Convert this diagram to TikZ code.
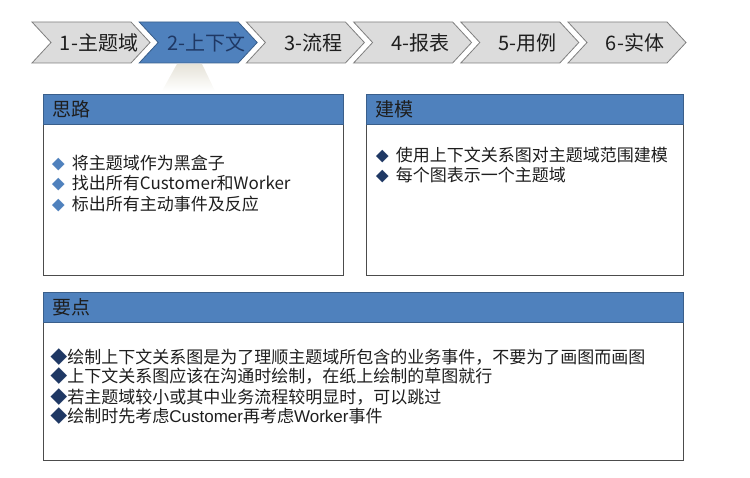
\documentclass[tikz,border=0pt]{standalone}
\usepackage{fontspec}
\setmainfont{Noto Sans CJK SC}
\newfontfamily\latin{Liberation Sans}
\usetikzlibrary{positioning}

\definecolor{hdblue}{HTML}{4F81BD}
\definecolor{hdline}{HTML}{3A5F8B}
\definecolor{chgray}{HTML}{DCDCDC}
\definecolor{chline}{HTML}{7F7F7F}
\definecolor{navy}{HTML}{1F3864}
\definecolor{ink}{HTML}{1E1E1E}
\definecolor{glow}{HTML}{E6E3D8}

\newcommand{\dia}[1]{\textcolor{#1}{\fontsize{13}{13}\selectfont ◆}\hspace{7pt}}

\begin{document}
\begin{tikzpicture}[x=1pt, y=-1pt, node distance=107.2pt, thick,
    chev/.style = {draw=chline, fill=chgray},
    cur/.style = {draw=hdline, fill=hdblue},
    steplabel/.style = {inner sep=0pt, font=\fontsize{20}{20}\selectfont, text=ink},
    head/.style = {draw=hdline, fill=hdblue, anchor=north west, minimum height=30pt,
        inner xsep=9pt, inner ysep=0pt, align=left, font=\fontsize{19}{19}\selectfont, text=ink},
    body/.style = {draw=black!70, fill=white, anchor=north west, inner sep=0pt},
    item/.style = {anchor=base west, inner sep=0pt, font=\fontsize{17}{17}\selectfont, text=ink}]
        \useasboundingbox (0,0) rectangle (750,478);

        % steps
        \draw[chev] (32,22) -- ++(99,0) -- ++(19,20.5) -- ++(-19,20.5) -- ++(-99,0) -- ++(19,-20.5) -- cycle;
        \draw[cur] (139.2,22) -- ++(99,0) -- ++(19,20.5) -- ++(-19,20.5) -- ++(-99,0) -- ++(19,-20.5) -- cycle;
        \draw[chev] (246.4,22) -- ++(99,0) -- ++(19,20.5) -- ++(-19,20.5) -- ++(-99,0) -- ++(19,-20.5) -- cycle;
        \draw[chev] (353.6,22) -- ++(99,0) -- ++(19,20.5) -- ++(-19,20.5) -- ++(-99,0) -- ++(19,-20.5) -- cycle;
        \draw[chev] (460.8,22) -- ++(99,0) -- ++(19,20.5) -- ++(-19,20.5) -- ++(-99,0) -- ++(19,-20.5) -- cycle;
        \draw[chev] (568,22) -- ++(99,0) -- ++(19,20.5) -- ++(-19,20.5) -- ++(-99,0) -- ++(19,-20.5) -- cycle;
        \node[steplabel] (c_1) at (99,42.5) {1-主题域};
        \node[steplabel, text=navy] (c_2) [right of=c_1] {2-上下文};
        \node[steplabel] (c_3) [right of=c_2] {3-流程};
        \node[steplabel] (c_4) [right of=c_3] {4-报表};
        \node[steplabel] (c_5) [right of=c_4] {5-用例};
        \node[steplabel] (c_6) [right of=c_5] {6-实体};
        \shade[top color=glow, bottom color=white, draw=none]
            (177,64) -- (202,64) -- (215,91) -- (162,91) -- cycle;

        % 思路
        \node[body, minimum width=300pt, minimum height=151pt] (b_1) at (43,124) {};
        \node[head, minimum width=300pt, text width=282pt] (h_1) at (43,94) {思路};
        \node[item] (i_1) at (51.5,169.5) {\dia{hdblue}将主题域作为黑盒子};
        \node[item] (i_2) at (51.5,190) {\dia{hdblue}找出所有Customer和Worker};
        \node[item] (i_3) at (51.5,210.5) {\dia{hdblue}标出所有主动事件及反应};

        % 建模
        \node[body, minimum width=317pt, minimum height=151pt] (b_2) at (366,124) {};
        \node[head, minimum width=317pt, text width=299pt] (h_2) at (366,94) {建模};
        \node[item] (i_4) at (375.5,162) {\dia{navy}使用上下文关系图对主题域范围建模};
        \node[item] (i_5) at (375.5,182) {\dia{navy}每个图表示一个主题域};

        % 要点
        \node[body, minimum width=640pt, minimum height=138pt] (b_3) at (43,322) {};
        \node[head, minimum width=640pt, text width=622pt] (h_3) at (43,292) {要点};
        \node[item] (i_6) at (50,363) {\textcolor{navy}{◆}绘制上下文关系图是为了理顺主题域所包含的业务事件，不要为了画图而画图};
        \node[item] (i_7) at (50,383) {\textcolor{navy}{◆}上下文关系图应该在沟通时绘制，在纸上绘制的草图就行};
        \node[item] (i_8) at (50,403) {\textcolor{navy}{◆}若主题域较小或其中业务流程较明显时，可以跳过};
        \node[item] (i_9) at (50,422.5) {\textcolor{navy}{◆}绘制时先考虑{\latin Customer}再考虑{\latin Worker}事件};
    \end{tikzpicture}
\end{document}
